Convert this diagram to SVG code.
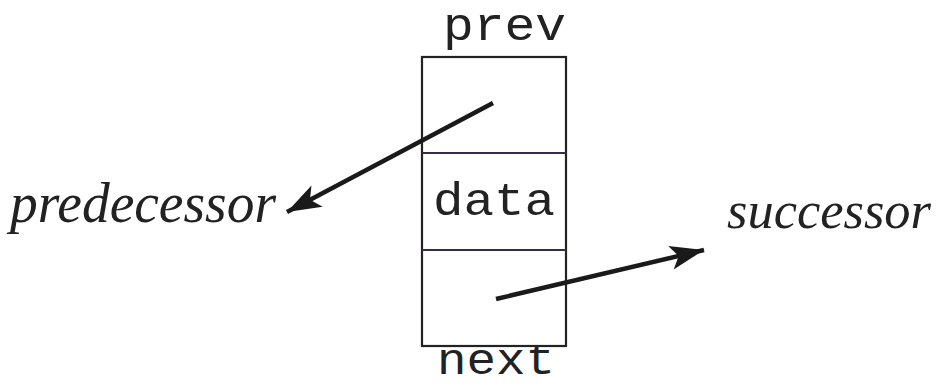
<svg xmlns="http://www.w3.org/2000/svg" width="940" height="389" viewBox="0 0 940 389">
<defs>
<style>
.mono{font-family:"Liberation Mono","DejaVu Sans Mono",monospace;font-size:46px;fill:#222}
.lbl{font-family:"Liberation Serif","DejaVu Serif",serif;font-style:italic;font-size:56px;fill:#222}
.box{fill:#fff;stroke:#222;stroke-width:2.2}
.div{stroke:#3a2a4a;stroke-width:2.2}
.arr{stroke:#1a1a1a;stroke-width:4.5;fill:none;marker-end:url(#ah)}
</style>
<marker id="ah" markerWidth="12" markerHeight="10" refX="10" refY="5" orient="auto" markerUnits="userSpaceOnUse" viewBox="0 0 12 10" overflow="visible">
<path d="M-24,-7 L10,5 L-24,17 L-16,5 Z" fill="#1a1a1a"/>
</marker>
</defs>
<rect width="940" height="389" fill="#fff"/>
<g id="node">
<rect class="box" x="422" y="57" width="144" height="289"/>
<line class="div" x1="422" y1="153" x2="566" y2="153"/>
<line class="div" x1="422" y1="250" x2="566" y2="250"/>
<text class="mono" x="443" y="40" textLength="123" lengthAdjust="spacingAndGlyphs">prev</text>
<text class="mono" x="433" y="215" textLength="122" lengthAdjust="spacingAndGlyphs">data</text>
<text class="mono" x="437" y="374" style="font-size:44px" textLength="118" lengthAdjust="spacingAndGlyphs">next</text>
</g>
<g id="predecessor">
<text class="lbl" x="10" y="222" textLength="266" lengthAdjust="spacingAndGlyphs">predecessor</text>
</g>
<g id="successor">
<text class="lbl" x="727" y="228" style="font-size:52px" textLength="204" lengthAdjust="spacingAndGlyphs">successor</text>
</g>
<g id="connectors">
<line class="arr" x1="493" y1="103" x2="287" y2="212"/>
<line class="arr" x1="496" y1="299" x2="704" y2="250"/>
</g>
</svg>
